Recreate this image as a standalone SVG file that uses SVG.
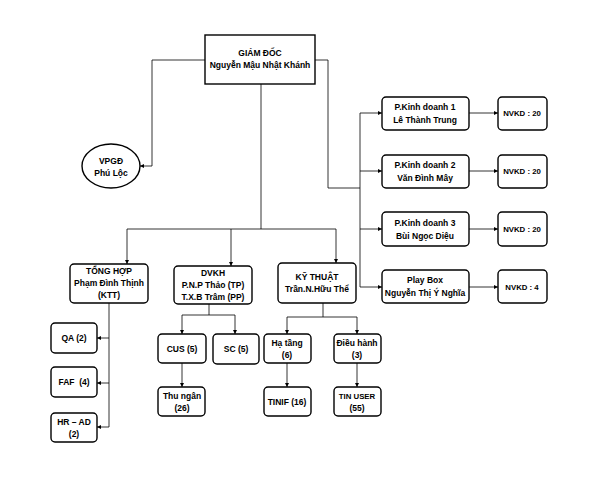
<svg xmlns="http://www.w3.org/2000/svg" width="605" height="481" viewBox="0 0 605 481">
<style>
.b{fill:#fff;stroke:#000;stroke-width:1.4}
.t{font-family:"Liberation Sans",Arial,sans-serif;font-size:8.5px;font-weight:bold;text-anchor:middle;fill:#000}
.s{font-size:7.8px}
.c{fill:none;stroke:#000;stroke-width:0.8}
</style>
<defs><marker id="a" viewBox="0 0 6 6" refX="6" refY="3" markerWidth="5" markerHeight="5" orient="auto"><path d="M0,0L6,3L0,6z" fill="#000"/></marker></defs>
<rect width="605" height="481" fill="#fff"/>
<g id="connectors" class="c">
<path d="M205,60H152V166H140" marker-end="url(#a)"/>
<path d="M315,60H328V188H360"/>
<path d="M360,113V287"/>
<path d="M360,113H382" marker-end="url(#a)"/>
<path d="M360,171H382" marker-end="url(#a)"/>
<path d="M360,229H382" marker-end="url(#a)"/>
<path d="M360,287H382" marker-end="url(#a)"/>
<path d="M469,113H498" marker-end="url(#a)"/>
<path d="M469,171H498" marker-end="url(#a)"/>
<path d="M469,229H498" marker-end="url(#a)"/>
<path d="M469,287H498" marker-end="url(#a)"/>
<path d="M261,84V229"/>
<path d="M127,229H336"/>
<path d="M127,229V264" marker-end="url(#a)"/>
<path d="M231,229V266" marker-end="url(#a)"/>
<path d="M336,229V263" marker-end="url(#a)"/>
<path d="M109,303V427"/>
<path d="M109,338H97" marker-end="url(#a)"/>
<path d="M109,383H97" marker-end="url(#a)"/>
<path d="M109,427H97" marker-end="url(#a)"/>
<path d="M209,304V315M182,315H235"/>
<path d="M182,315V334" marker-end="url(#a)"/>
<path d="M235,315V334" marker-end="url(#a)"/>
<path d="M182,363V387" marker-end="url(#a)"/>
<path d="M323,303V317M287,317H357"/>
<path d="M287,317V334" marker-end="url(#a)"/>
<path d="M357,317V334" marker-end="url(#a)"/>
<path d="M287,363V387" marker-end="url(#a)"/>
<path d="M357,363V387" marker-end="url(#a)"/>
</g>
<g id="gd"><rect class="b" x="205" y="35" width="110" height="49" stroke-width="1.6"/><text class="t" x="260" y="56">GIÁM ĐỐC</text><text class="t" x="260" y="68">Nguyễn Mậu Nhật Khánh</text></g>
<g id="vpgd"><ellipse class="b" cx="111" cy="166" rx="29" ry="22"/><text class="t" x="111" y="164">VPGĐ</text><text class="t" x="111" y="176">Phú Lộc</text></g>
<g id="kd1"><rect class="b" x="382" y="97" width="87" height="33" rx="4"/><text class="t" x="425" y="110">P.Kinh doanh 1</text><text class="t" x="425" y="123">Lê Thành Trung</text></g>
<g id="kd2"><rect class="b" x="382" y="155" width="87" height="33" rx="4"/><text class="t" x="425" y="168">P.Kinh doanh 2</text><text class="t" x="425" y="181">Văn Đình Mây</text></g>
<g id="kd3"><rect class="b" x="382" y="212" width="87" height="34" rx="4"/><text class="t" x="425" y="226">P.Kinh doanh 3</text><text class="t" x="425" y="239">Bùi Ngọc Diệu</text></g>
<g id="pb"><rect class="b" x="382" y="270" width="87" height="33" rx="4"/><text class="t" x="425" y="283">Play Box</text><text class="t" x="425" y="296">Nguyễn Thị Ý Nghĩa</text></g>
<g id="n1"><rect class="b" x="498" y="97" width="49" height="33" rx="4"/><text class="t s" x="522" y="116">NVKD : 20</text></g>
<g id="n2"><rect class="b" x="498" y="155" width="49" height="33" rx="4"/><text class="t s" x="522" y="174">NVKD : 20</text></g>
<g id="n3"><rect class="b" x="498" y="212" width="49" height="34" rx="4"/><text class="t s" x="522" y="232">NVKD : 20</text></g>
<g id="n4"><rect class="b" x="498" y="270" width="49" height="33" rx="4"/><text class="t s" x="522" y="290">NVKD : 4</text></g>
<g id="th"><rect class="b" x="70" y="264" width="78" height="39" rx="4"/><text class="t" x="109" y="274">TỔNG HỢP</text><text class="t" x="109" y="286">Phạm Đình Thịnh</text><text class="t" x="109" y="298">(KTT)</text></g>
<g id="dvkh"><rect class="b" x="174" y="266" width="78" height="38" rx="4"/><text class="t" x="213" y="276">DVKH</text><text class="t" x="213" y="288">P.N.P Thảo (TP)</text><text class="t" x="213" y="300">T.X.B Trâm (PP)</text></g>
<g id="kt"><rect class="b" x="278" y="263" width="78" height="40" rx="4"/><text class="t" x="317" y="280">KỸ THUẬT</text><text class="t" x="317" y="292">Trần.N.Hữu Thể</text></g>
<g id="qa"><rect class="b" x="51" y="323" width="46" height="30" rx="4"/><text class="t" x="74" y="341">QA (2)</text></g>
<g id="faf"><rect class="b" x="51" y="367" width="46" height="30" rx="4"/><text class="t" x="74" y="385" xml:space="preserve">FAF  (4)</text></g>
<g id="hr"><rect class="b" x="51" y="413" width="46" height="29" rx="4"/><text class="t" x="74" y="425">HR – AD</text><text class="t" x="74" y="437">(2)</text></g>
<g id="cus"><rect class="b" x="158" y="334" width="48" height="29" rx="4"/><text class="t" x="182" y="352">CUS (5)</text></g>
<g id="sc"><rect class="b" x="213" y="334" width="46" height="30" rx="4"/><text class="t" x="236" y="352">SC (5)</text></g>
<g id="tn"><rect class="b" x="158" y="387" width="47" height="29" rx="4"/><text class="t" x="182" y="399">Thu ngân</text><text class="t" x="182" y="411">(26)</text></g>
<g id="ht"><rect class="b" x="264" y="334" width="47" height="29" rx="4"/><text class="t" x="287" y="346">Hạ tầng</text><text class="t" x="287" y="358">(6)</text></g>
<g id="dh"><rect class="b" x="334" y="334" width="47" height="29" rx="4"/><text class="t" x="357" y="346">Điều hành</text><text class="t" x="357" y="358">(3)</text></g>
<g id="tinif"><rect class="b" x="264" y="387" width="47" height="29" rx="4"/><text class="t" x="287" y="405">TINIF (16)</text></g>
<g id="tu"><rect class="b" x="334" y="387" width="47" height="29" rx="4"/><text class="t s" x="357" y="399">TIN USER</text><text class="t" x="357" y="411">(55)</text></g>
</svg>
